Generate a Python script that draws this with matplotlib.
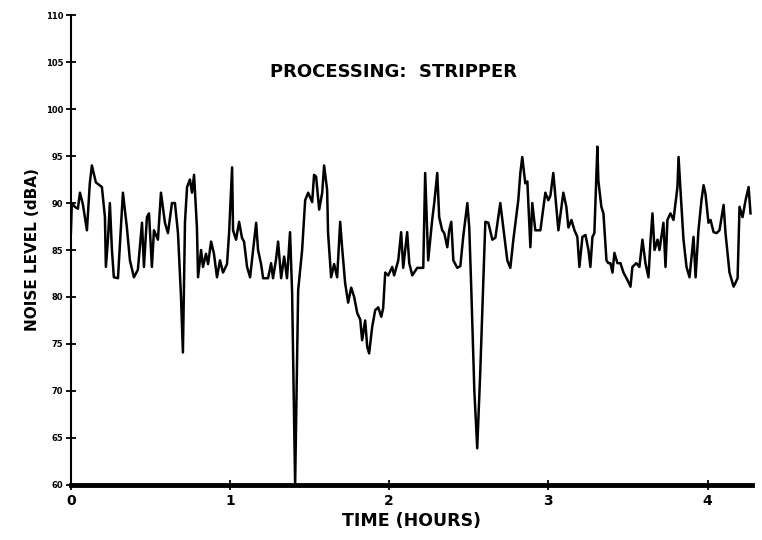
import matplotlib
matplotlib.use("Agg")
import matplotlib.pyplot as plt

# noise level trace
hours = [0.000, 0.006, 0.025, 0.044, 0.057, 0.075, 0.101, 0.119, 0.132, 0.157,
         0.195, 0.214, 0.220, 0.233, 0.245, 0.258, 0.270, 0.296, 0.327, 0.352,
         0.371, 0.396, 0.421, 0.447, 0.459, 0.478, 0.491, 0.509, 0.522, 0.547,
         0.566, 0.591, 0.610, 0.635, 0.654, 0.673, 0.692, 0.704, 0.717, 0.730,
         0.748, 0.761, 0.774, 0.792, 0.799, 0.818, 0.830, 0.849, 0.862, 0.881,
         0.899, 0.918, 0.937, 0.956, 0.981, 0.994, 1.013, 1.019, 1.038, 1.057,
         1.075, 1.088, 1.107, 1.126, 1.145, 1.164, 1.176, 1.195, 1.208, 1.239,
         1.258, 1.270, 1.289, 1.302, 1.321, 1.340, 1.358, 1.377, 1.390, 1.409,
         1.428, 1.453, 1.472, 1.491, 1.516, 1.528, 1.541, 1.560, 1.579, 1.591,
         1.610, 1.616, 1.635, 1.654, 1.673, 1.692, 1.704, 1.723, 1.742, 1.761,
         1.780, 1.799, 1.818, 1.830, 1.849, 1.862, 1.874, 1.893, 1.912, 1.931,
         1.950, 1.962, 1.975, 1.994, 2.019, 2.031, 2.057, 2.075, 2.088, 2.113,
         2.126, 2.145, 2.176, 2.214, 2.226, 2.245, 2.270, 2.283, 2.302, 2.314,
         2.333, 2.346, 2.365, 2.377, 2.390, 2.403, 2.428, 2.447, 2.465, 2.491,
         2.503, 2.516, 2.535, 2.553, 2.572, 2.591, 2.604, 2.623, 2.648, 2.667,
         2.698, 2.717, 2.742, 2.761, 2.780, 2.811, 2.824, 2.836, 2.855, 2.868,
         2.887, 2.899, 2.918, 2.950, 2.981, 3.000, 3.013, 3.031, 3.050, 3.063,
         3.082, 3.094, 3.113, 3.126, 3.145, 3.164, 3.182, 3.195, 3.214, 3.233,
         3.252, 3.264, 3.277, 3.289, 3.308, 3.314, 3.333, 3.346, 3.365, 3.377,
         3.390, 3.403, 3.415, 3.434, 3.453, 3.472, 3.497, 3.516, 3.528, 3.553,
         3.572, 3.591, 3.610, 3.629, 3.642, 3.654, 3.667, 3.686, 3.698, 3.723,
         3.736, 3.748, 3.767, 3.786, 3.811, 3.818, 3.830, 3.849, 3.868, 3.887,
         3.912, 3.925, 3.943, 3.962, 3.975, 3.987, 4.006, 4.019, 4.038, 4.057,
         4.075, 4.101, 4.113, 4.138, 4.164, 4.189, 4.201, 4.220, 4.239, 4.258,
         4.270]

dba = [86.8, 90.0, 89.6, 89.4, 91.1, 89.9, 87.1, 92.1, 94.0, 92.2,
       91.7, 88.5, 83.2, 86.1, 90.0, 85.0, 82.1, 82.0, 91.1, 87.4,
       83.9, 82.1, 82.9, 87.9, 83.2, 88.5, 88.9, 83.2, 87.1, 86.1,
       91.1, 87.9, 86.8, 90.0, 90.0, 86.8, 80.0, 74.1, 88.0, 91.7,
       92.5, 91.1, 93.0, 87.4, 82.1, 85.0, 83.2, 84.6, 83.5, 85.9,
       84.6, 82.1, 83.9, 82.6, 83.5, 86.8, 93.8, 87.1, 86.1, 88.0,
       86.3, 85.9, 83.2, 82.1, 85.0, 87.9, 85.0, 83.5, 82.0, 82.0,
       83.6, 82.0, 84.0, 85.9, 82.0, 84.3, 82.0, 86.9, 80.5, 60.0,
       80.7, 85.0, 90.3, 91.1, 90.1, 93.0, 92.8, 89.3, 91.1, 94.0,
       91.4, 86.8, 82.1, 83.5, 82.1, 88.0, 85.3, 81.5, 79.4, 81.0,
       80.0, 78.3, 77.6, 75.4, 77.5, 74.7, 74.0, 76.8, 78.6, 78.9,
       77.9, 78.8, 82.6, 82.3, 83.2, 82.3, 83.9, 86.9, 83.1, 86.9,
       83.6, 82.3, 83.1, 83.1, 93.2, 83.9, 88.2, 90.0, 93.2, 88.5,
       87.1, 86.8, 85.3, 87.1, 88.0, 83.9, 83.1, 83.3, 86.4, 90.0,
       87.4, 80.7, 70.0, 63.9, 72.0, 81.5, 88.0, 87.9, 86.1, 86.3,
       90.0, 87.4, 83.9, 83.1, 86.1, 90.3, 93.2, 94.9, 92.1, 92.3,
       85.3, 90.0, 87.1, 87.1, 91.1, 90.3, 90.8, 93.2, 89.6, 87.1,
       89.6, 91.1, 89.6, 87.4, 88.2, 87.1, 86.4, 83.2, 86.4, 86.6,
       85.0, 83.2, 86.4, 86.8, 96.0, 92.4, 89.6, 88.9, 83.9, 83.6,
       83.6, 82.6, 84.7, 83.6, 83.6, 82.6, 81.8, 81.1, 83.2, 83.6,
       83.2, 86.1, 83.6, 82.1, 86.1, 88.9, 85.0, 86.1, 85.0, 87.9,
       83.2, 88.2, 88.9, 88.2, 91.7, 94.9, 91.4, 86.1, 83.2, 82.1,
       86.4, 82.1, 87.1, 90.3, 91.9, 91.0, 87.9, 88.2, 86.9, 86.8,
       87.1, 89.8, 86.8, 82.6, 81.1, 82.0, 89.6, 88.5, 90.3, 91.7,
       88.9]

x_ticks = [0, 1, 2, 3, 4]
y_ticks = [60, 65, 70, 75, 80, 85, 90, 95, 100, 105, 110]

fig = plt.figure(figsize=(7.62, 5.40), dpi=100)
ax = fig.add_axes([0.093, 0.102, 0.894, 0.870])

ax.plot(hours, dba, color="black", linewidth=1.8)

ax.set_xlim(0, 4.28)
ax.set_ylim(60, 110)
ax.set_xticks(x_ticks)
ax.set_yticks(y_ticks)

ax.spines["top"].set_visible(False)
ax.spines["right"].set_visible(False)
ax.spines["left"].set_linewidth(1.5)
ax.spines["bottom"].set_linewidth(3.5)

ax.tick_params(axis="both", direction="inout", length=7, width=1.3, color="black")
ax.tick_params(axis="y", labelsize=6, pad=2)
ax.tick_params(axis="x", labelsize=10, pad=3)
for lbl in ax.get_xticklabels() + ax.get_yticklabels():
    lbl.set_fontweight("bold")

ax.set_xlabel("TIME (HOURS)", fontsize=12.5, fontweight="bold", labelpad=3)
ax.set_ylabel("NOISE LEVEL (dBA)", fontsize=11, fontweight="bold", labelpad=4)

ax.text(0.474, 0.879, "PROCESSING:  STRIPPER", transform=ax.transAxes,
        ha="center", va="center", fontsize=13, fontweight="bold")

fig.savefig("out.png", dpi=100)
